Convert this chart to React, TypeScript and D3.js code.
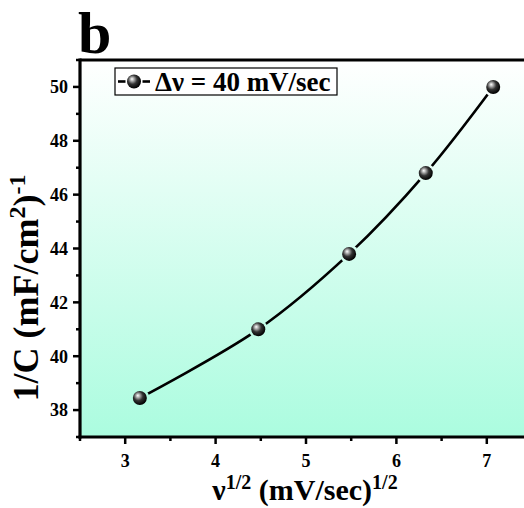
import React from "react";
import * as d3 from "d3";

const xValues = [3.162, 4.472, 5.477, 6.325, 7.071];
const yValues = [38.45, 41.0, 43.8, 46.8, 50.0];
const xTicks = [3, 4, 5, 6, 7];
const yTicks = [38, 40, 42, 44, 46, 48, 50];
const xMinor = [2.5, 3.5, 4.5, 5.5, 6.5, 7.5];
const yMinor = [37, 39, 41, 43, 45, 47, 49, 51];
const legendLabel = "Δν = 40 mV/sec";
const panelLabel = "b";

const W = 524;
const H = 508;
const L = 80, R = 532, T = 60, B = 437;
const FONT = "'Liberation Serif', 'Times New Roman', serif";

export default function App() {
  const x = d3.scaleLinear().domain([2.5, 7.5]).range([L, R]);
  const y = d3.scaleLinear().domain([37, 51]).range([B, T]);
  const pts: [number, number][] = xValues.map((v, i) => [x(v), y(yValues[i])]);
  const line = d3.line<[number, number]>().curve(d3.curveCatmullRom.alpha(0.5))(pts) || "";
  const r = 7;
  const legX = 115, legY = 68, legW = 222, legH = 27;
  const lcy = legY + legH / 2;
  const lcx = legX + 19;
  return (
    <svg width={W} height={H} style={{ position: "fixed", left: 0, top: 0, background: "#fff" }} fontFamily={FONT}>
      <defs>
        <linearGradient id="bg" x1="0" y1="0" x2="0" y2="1">
          <stop offset="0" stopColor="#ffffff" />
          <stop offset="1" stopColor="#abfcdf" />
        </linearGradient>
        <radialGradient id="ball" cx="0.42" cy="0.4" r="0.6" fx="0.35" fy="0.32">
          <stop offset="0" stopColor="#ffffff" />
          <stop offset="0.2" stopColor="#b8b8b8" />
          <stop offset="0.55" stopColor="#333" />
          <stop offset="1" stopColor="#000" />
        </radialGradient>
        <mask id="gap">
          <rect x={0} y={0} width={W} height={H} fill="white" />
          {pts.map((p, i) => (
            <circle key={i} cx={p[0]} cy={p[1]} r={r + 2.5} fill="black" />
          ))}
        </mask>
      </defs>
      <rect x={L} y={T} width={R - L} height={B - T} fill="url(#bg)" />
      <path d={line} fill="none" stroke="#000" strokeWidth={2.6} mask="url(#gap)" />
      {pts.map((p, i) => (
        <circle key={i} cx={p[0]} cy={p[1]} r={r} fill="url(#ball)" />
      ))}
      {/* frame */}
      <line x1={L} x2={R + 2} y1={T} y2={T} stroke="#000" strokeWidth={3.2} />
      <line x1={L} x2={L} y1={T - 1.6} y2={B + 1.6} stroke="#000" strokeWidth={3.2} />
      <line x1={L - 1.6} x2={R + 2} y1={B} y2={B} stroke="#000" strokeWidth={3.2} />
      <line x1={R} x2={R} y1={T} y2={B} stroke="#000" strokeWidth={3.2} />
      {/* y ticks */}
      {yTicks.map((t) => (
        <g key={"yt" + t}>
          <line x1={L - 7} x2={L} y1={y(t)} y2={y(t)} stroke="#000" strokeWidth={2.5} />
          <text x={68} y={y(t)} dy="0.35em" textAnchor="end" fontSize={18} fontWeight="bold">{t}</text>
        </g>
      ))}
      {yMinor.map((t) => (
        <line key={"ym" + t} x1={L - 4} x2={L} y1={y(t)} y2={y(t)} stroke="#000" strokeWidth={2.5} />
      ))}
      {xTicks.map((t) => (
        <g key={"xt" + t}>
          <line x1={x(t)} x2={x(t)} y1={B} y2={B + 7} stroke="#000" strokeWidth={2.5} />
          <text x={x(t)} y={467} textAnchor="middle" fontSize={18} fontWeight="bold">{t}</text>
        </g>
      ))}
      {xMinor.map((t) => (
        <line key={"xm" + t} x1={x(t)} x2={x(t)} y1={B} y2={B + 4} stroke="#000" strokeWidth={2.5} />
      ))}
      {/* axis titles */}
      <text x={305} y={500} textAnchor="middle" fontSize={30} fontWeight="bold">
        ν<tspan dy={-11} fontSize={20}>1/2</tspan>
        <tspan dy={11}> (mV/sec)</tspan>
        <tspan dy={-11} fontSize={20}>1/2</tspan>
      </text>
      <text transform={`translate(38,288) rotate(-90)`} textAnchor="middle" fontSize={36} fontWeight="bold">
        1/C (mF/cm<tspan dy={-13} fontSize={24}>2</tspan>
        <tspan dy={13}>)</tspan>
        <tspan dy={-13} fontSize={24}>-1</tspan>
      </text>
      {/* panel label */}
      <text x={78} y={53} fontSize={60} fontWeight="bold">{panelLabel}</text>
      {/* legend */}
      <rect x={legX} y={legY} width={legW} height={legH} fill="#fff" stroke="#000" strokeWidth={1.2} />
      <line x1={legX + 3} x2={lcx - r - 1.5} y1={lcy} y2={lcy} stroke="#000" strokeWidth={2.6} />
      <line x1={lcx + r + 1.5} x2={legX + 35} y1={lcy} y2={lcy} stroke="#000" strokeWidth={2.6} />
      <circle cx={lcx} cy={lcy} r={r} fill="url(#ball)" />
      <text x={legX + 40} y={lcy} dy="0.35em" fontSize={27} fontWeight="bold">{legendLabel}</text>
    </svg>
  );
}
